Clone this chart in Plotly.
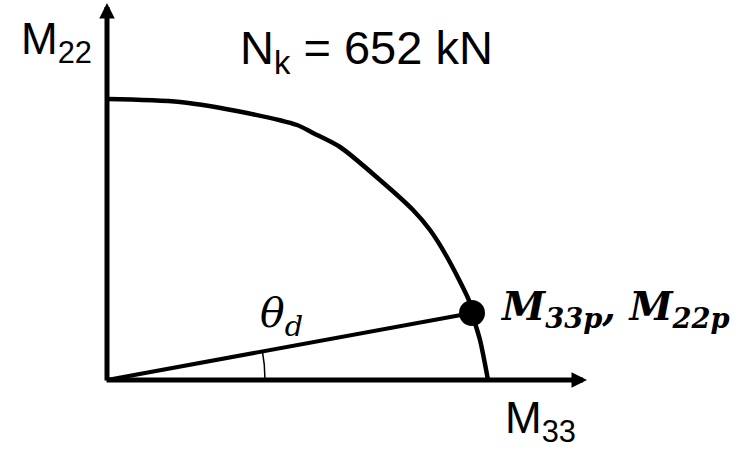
import numpy as np
import plotly.graph_objects as go

# Biaxial moment interaction curve (first quadrant) at N_k = 652 kN
m33_curve = [0, 73, 140, 190, 206, 233, 273, 306, 323, 340, 363, 365, 373, 381]
m22_curve = [281, 278, 267, 255, 247, 233, 200, 170, 150, 123, 77, 67, 40, 0]

# Design point on the curve
m33_point = 365
m22_point = 67

# Axis extents (arrow tips)
m33_axis_end = 480
m22_axis_end = 377

fig = go.Figure()

# interaction curve
fig.add_trace(go.Scatter(
    x=m33_curve, y=m22_curve, mode="lines",
    line=dict(color="black", width=4.5, shape="spline", smoothing=0.8),
    hoverinfo="skip", showlegend=False,
))

# radial line from origin to the design point
fig.add_trace(go.Scatter(
    x=[0, m33_point], y=[0, m22_point], mode="lines",
    line=dict(color="black", width=4),
    hoverinfo="skip", showlegend=False,
))

# angle arc theta_d
theta = np.arctan2(m22_point, m33_point)
r_arc = 158
t = np.linspace(0, theta, 30)
fig.add_trace(go.Scatter(
    x=r_arc * np.cos(t), y=r_arc * np.sin(t), mode="lines",
    line=dict(color="black", width=1.5),
    hoverinfo="skip", showlegend=False,
))

# design point marker
fig.add_trace(go.Scatter(
    x=[m33_point], y=[m22_point], mode="markers",
    marker=dict(color="black", size=26),
    hoverinfo="skip", showlegend=False,
))

arrow_style = dict(showarrow=True, arrowhead=2, arrowsize=0.62, arrowwidth=5,
                   arrowcolor="black", standoff=0, startstandoff=0,
                   xref="x", yref="y", axref="x", ayref="y", text="")
# M33 axis
fig.add_annotation(x=m33_axis_end, y=0, ax=-2, ay=0, **arrow_style)
# M22 axis
fig.add_annotation(x=0, y=m22_axis_end, ax=0, ay=-2, **arrow_style)

sans = "Liberation Sans, Arial, sans-serif"
serif = "DejaVu Serif, serif"

fig.add_annotation(x=-88, y=338, text="M<sub>22</sub>", showarrow=False,
                   xanchor="left", yanchor="middle",
                   font=dict(family=sans, size=44, color="black"))
fig.add_annotation(x=131, y=329, text="N<sub>k</sub> = 652 kN", showarrow=False,
                   xanchor="left", yanchor="middle",
                   font=dict(family=sans, size=47, color="black"))
fig.add_annotation(x=396, y=-41, text="M<sub>33</sub>", showarrow=False,
                   xanchor="left", yanchor="middle",
                   font=dict(family=sans, size=44, color="black"))
fig.add_annotation(x=151, y=64, text="<i>θ<sub>d</sub></i>", showarrow=False,
                   xanchor="left", yanchor="middle",
                   font=dict(family=serif, size=41, color="black"))
fig.add_annotation(x=391, y=72, text="<b><i>M<sub>33p</sub>, M<sub>22p</sub></i></b>",
                   showarrow=False, xanchor="left", yanchor="middle",
                   font=dict(family=serif, size=39, color="black"))

fig.update_layout(
    width=747, height=454,
    margin=dict(l=0, r=0, t=0, b=0),
    paper_bgcolor="white", plot_bgcolor="white",
    xaxis=dict(range=[-107, 640], visible=False, fixedrange=True),
    yaxis=dict(range=[-74, 380], visible=False, fixedrange=True),
)

fig.write_html("out.html")
